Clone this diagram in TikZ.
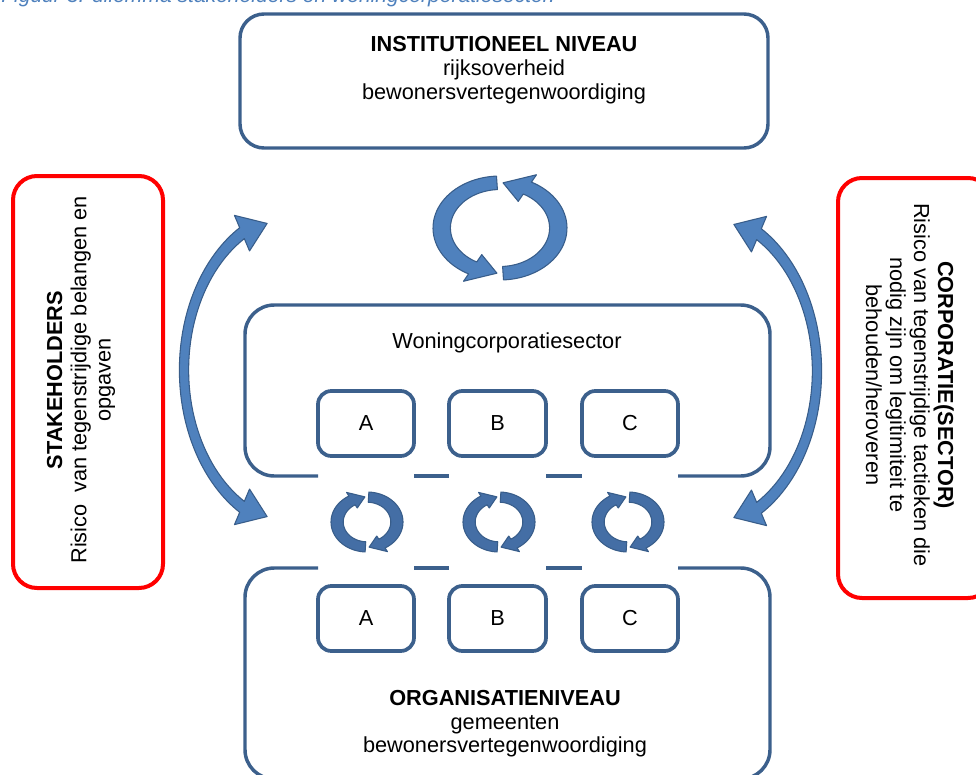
\documentclass[tikz,border=0pt]{standalone}
\usepackage{fontspec}
\setmainfont{Liberation Sans}
\usetikzlibrary{fit}
\definecolor{frameblue}{RGB}{60,96,140}
\definecolor{arrfill}{RGB}{79,129,189}
\definecolor{arrline}{RGB}{56,93,138}
\definecolor{smallfill}{RGB}{68,110,165}
\definecolor{capblue}{RGB}{79,129,189}
\tikzset{
  bluebox/.style={draw=frameblue, line width=2.6pt, rounded corners=18pt, inner sep=0pt},
  smallbox/.style={draw=frameblue, line width=2.8pt, rounded corners=10pt, inner sep=0pt},
  redbox/.style={draw=red, line width=3pt, rounded corners=18pt, inner sep=0pt},
  frame/.style={draw=frameblue, line width=2.6pt, rounded corners=22pt},
  txt/.style={font=\fontsize{16.3}{19}\selectfont, inner sep=0pt},
  arr/.style={fill=arrfill, draw=arrline, line width=0.8pt},
  arrsmall/.style={fill=smallfill, draw=arrline, line width=0.8pt},
  cwcycle/.pic={
    \path[arrsmall] plot[domain=93:240,samples=40,variable=\t] ({cos(\t)},{sin(\t)})
      -- ({1.14*cos(240)},{1.14*sin(240)}) -- ({0.84*cos(266)},{0.84*sin(266)})
      -- ({0.54*cos(240)},{0.54*sin(240)})
      -- plot[domain=-240:-93,samples=40,variable=\t] ({0.66*cos(-\t)},{0.66*sin(-\t)}) -- cycle;
    \path[arrsmall] plot[domain=-87:60,samples=40,variable=\t] ({cos(\t)},{sin(\t)})
      -- ({1.14*cos(60)},{1.14*sin(60)}) -- ({0.84*cos(86)},{0.84*sin(86)})
      -- ({0.54*cos(60)},{0.54*sin(60)})
      -- plot[domain=-60:87,samples=40,variable=\t] ({0.66*cos(-\t)},{0.66*sin(-\t)}) -- cycle;
  },
  ccwcycle/.pic={
    \path[arr] plot[domain=118:267,samples=40,variable=\t] ({cos(\t)},{sin(\t)})
      -- plot[domain=-267:-118,samples=40,variable=\t] ({0.74*cos(-\t)},{0.74*sin(-\t)})
      -- ({0.58*cos(118)},{0.58*sin(118)}) -- ({0.87*cos(93)},{0.87*sin(93)})
      -- ({1.16*cos(118)},{1.16*sin(118)}) -- cycle;
    \path[arr] plot[domain=-62:87,samples=40,variable=\t] ({cos(\t)},{sin(\t)})
      -- plot[domain=-87:62,samples=40,variable=\t] ({0.74*cos(-\t)},{0.74*sin(-\t)})
      -- ({0.58*cos(-62)},{0.58*sin(-62)}) -- ({0.87*cos(-87)},{0.87*sin(-87)})
      -- ({1.16*cos(-62)},{1.16*sin(-62)}) -- cycle;
  },
  dblarc/.pic={
    \path[arr] ({0.97*cos(107)},{0.97*sin(107)}) -- ({1.13*cos(120)},{1.13*sin(120)})
      -- ({1.045*cos(120)},{1.045*sin(120)})
      -- plot[domain=120:240,samples=50,variable=\t] ({1.04*cos(\t)},{1.04*sin(\t)})
      -- ({1.13*cos(240)},{1.13*sin(240)}) -- ({0.97*cos(253)},{0.97*sin(253)})
      -- ({0.87*cos(240)},{0.87*sin(240)}) -- ({0.955*cos(240)},{0.955*sin(240)})
      -- plot[domain=-240:-120,samples=50,variable=\t] ({0.96*cos(-\t)},{0.96*sin(-\t)})
      -- ({0.87*cos(120)},{0.87*sin(120)}) -- cycle;
  }
}
\begin{document}
\begin{tikzpicture}[x=0.75pt, y=-0.75pt, line join=round]
\useasboundingbox (0,0) rectangle (976,775);

% caption (cut off at the top, as in the source)
\node[anchor=base west, inner sep=0pt, text=capblue, font=\fontsize{15.8}{19}\selectfont\itshape] (cap) at (1,2.5) {Figuur 3: dilemma stakeholders en woningcorporatiesector.};

% institutional level
\node[bluebox, fit={(240,14) (768,148)}] (inst) {};
\node[txt, anchor=base] (instT) at (504,51) {\textbf{INSTITUTIONEEL NIVEAU}};
\node[txt, anchor=base] (instA) at (504,75) {rijksoverheid};
\node[txt, anchor=base] (instB) at (504,99) {bewonersvertegenwoordiging};

% side red boxes
\node[redbox, fit={(13,176) (163,588)}] (stake) {};
\node[txt, anchor=base, rotate=90] (stakeT) at (62,380) {\textbf{STAKEHOLDERS}};
\node[txt, anchor=base, rotate=90] (stakeA) at (86.5,380) {Risico\ \ van tegenstrijdige belangen en};
\node[txt, anchor=base, rotate=90] (stakeB) at (110.5,380) {opgaven};

\node[redbox, fit={(838,178) (992,598)}] (corp) {};
\node[txt, anchor=base, rotate=-90] (corpT) at (938,385) {\textbf{CORPORATIE(SECTOR)}};
\node[txt, anchor=base, rotate=-90] (corpA) at (914,385) {Risico van tegenstrijdige tactieken die};
\node[txt, anchor=base, rotate=-90] (corpB) at (890,385) {nodig zijn om legitimiteit te};
\node[txt, anchor=base, rotate=-90] (corpC) at (866,385) {behouden/heroveren};

% sector frame
\draw[frame] (318,476) -- (245,476) -- (245,305) -- (770,305) -- (770,476) -- (678,476);
\draw[frame] (414,476) -- (449,476);
\draw[frame] (546,476) -- (582,476);
\node[txt, anchor=base] (sectT) at (507,348) {Woningcorporatiesector};
\node[smallbox, fit={(318,391) (414,456)}] (sA) {};
\node[smallbox, fit={(449,391) (546,456)}] (sB) {};
\node[smallbox, fit={(582,391) (678,456)}] (sC) {};
\node[txt] at (sA.center) (sAt) {A};
\node[txt] at (sB.center) (sBt) {B};
\node[txt] at (sC.center) (sCt) {C};

% organisation frame
\draw[frame] (318,568) -- (245,568) -- (245,779) -- (770,779) -- (770,568) -- (678,568);
\draw[frame] (414,568) -- (449,568);
\draw[frame] (546,568) -- (582,568);
\node[smallbox, fit={(318,586) (414,651)}] (oA) {};
\node[smallbox, fit={(449,586) (546,651)}] (oB) {};
\node[smallbox, fit={(582,586) (678,651)}] (oC) {};
\node[txt] at (oA.center) (oAt) {A};
\node[txt] at (oB.center) (oBt) {B};
\node[txt] at (oC.center) (oCt) {C};
\node[txt, anchor=base] (orgT) at (505,705) {\textbf{ORGANISATIENIVEAU}};
\node[txt, anchor=base] (orgA) at (505,729) {gemeenten};
\node[txt, anchor=base] (orgB) at (505,752) {bewonersvertegenwoordiging};

% cycle icons
\pic[xscale=67, yscale=52] (bigcyc) at (500,228) {ccwcycle};
\pic[xscale=36, yscale=30] (cyc1) at (367,522) {cwcycle};
\pic[xscale=36, yscale=30] (cyc2) at (499,522) {cwcycle};
\pic[xscale=36, yscale=30] (cyc3) at (628,522) {cwcycle};

% curved double arrows
\pic[xscale=116, yscale=158] (leftarc) at (300,370) {dblarc};
\pic[xscale=-116, yscale=158] (rightarc) at (701,371) {dblarc};
\end{tikzpicture}
\end{document}
